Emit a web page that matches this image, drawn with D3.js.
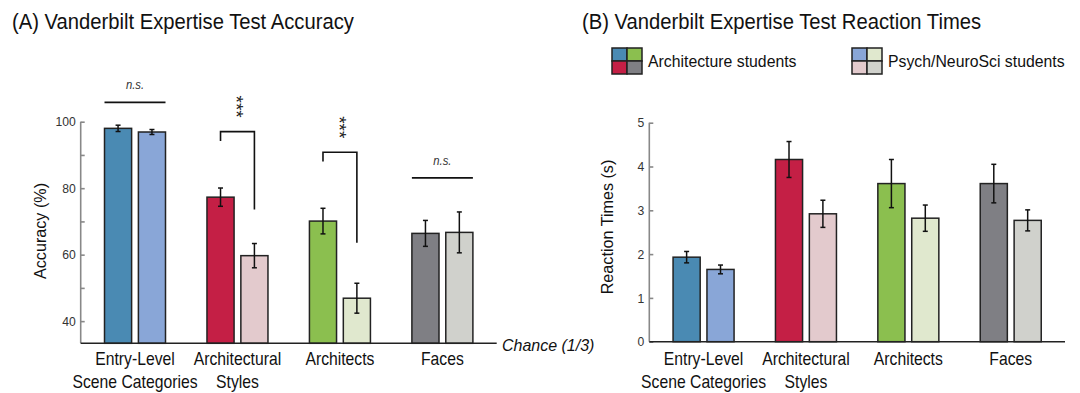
<!DOCTYPE html>
<html>
<head>
<meta charset="utf-8" />
<title>Vanderbilt Expertise Test</title>
<style>
body { margin: 0; background: #fff; }
svg text { font-family: "Liberation Sans Narrow", "Arial Narrow", "Liberation Sans", sans-serif; fill: #111; }
</style>
</head>
<body>
<div id="chart"></div>
<script src="https://cdnjs.cloudflare.com/ajax/libs/d3/7.8.5/d3.min.js"></script>
<script>
// categories and groups
var categories = [["Entry-Level", "Scene Categories"], ["Architectural", "Styles"], ["Architects"], ["Faces"]]
var groups = ["Architecture students", "Psych/NeuroSci students"]

// (A) accuracy, percent
var accArch = [98.0, 77.3, 70.1, 66.4]
var accArchErr = [0.95, 2.75, 3.85, 3.9]
var accPsych = [96.9, 59.7, 46.9, 66.7]
var accPsychErr = [0.75, 3.65, 4.5, 6.15]
var accTicks = [40, 50, 60, 70, 80, 90, 100]
var accLabels = [40, 60, 80, 100]
var chance = 100 / 3

// (B) reaction times, seconds
var rtArch = [1.93, 4.16, 3.61, 3.61]
var rtArchErr = [0.13, 0.41, 0.55, 0.44]
var rtPsych = [1.65, 2.92, 2.82, 2.77]
var rtPsychErr = [0.1, 0.31, 0.3, 0.24]
var rtTicks = [0, 1, 2, 3, 4, 5]

// significance marks on (A), in accuracy units
var accSig = [
    {cat: 0, label: "n.s.", level: 105.8},
    {cat: 1, label: "***", top: 97.0, left: 94.2, right: 73.6},
    {cat: 2, label: "***", top: 90.8, left: 88.0, right: 63.6},
    {cat: 3, label: "n.s.", level: 83.1}
]

var colorsArch = ["#4a8ab3", "#c41f45", "#8bbf4f", "#7f7f84"]
var colorsPsych = ["#89a6d7", "#e3cacd", "#e0e8ce", "#d0d1cc"]

var svg = d3.select("#chart").append("svg").attr("width", 1080).attr("height", 393)

// the original uses a narrow face; squeeze the glyphs horizontally
function squeeze(sel, f) {
    sel.each(function() {
        var w = this.getComputedTextLength()
        d3.select(this).attr("textLength", w * f).attr("lengthAdjust", "spacingAndGlyphs")
    })
    return sel
}

function drawPanel(o) {
    var g = svg.append("g")
    var x = d3.scalePoint().domain(d3.range(categories.length)).range([o.x0, o.x1]).padding(0.53)
    var sub = d3.scaleBand().domain([0, 1]).range([-30.5, 30.5]).paddingInner(0.2)
    var y = d3.scaleLinear().domain(o.domain).range([o.yBottom, o.yTop])

    g.append("text").attr("x", o.titleX).attr("y", 29).attr("font-size", 21.5).text(o.title)
        .call(squeeze, 0.94)

    // y axis
    var yAxis = d3.axisRight(y).tickValues(o.ticks).tickSize(4).tickFormat("")
    var ya = g.append("g").attr("transform", "translate(" + o.x0 + ",0)").call(yAxis)
    ya.select(".domain").attr("d", "M0," + y(o.ticks[o.ticks.length - 1]) + "V" + o.yBottom)
    ya.selectAll("path, line").attr("stroke", "#888").attr("stroke-width", 1.6)
    g.selectAll(".ylab").data(o.labels).enter().append("text")
        .attr("x", o.x0 - 5).attr("y", function(d) { return y(d) })
        .attr("dy", "0.35em").attr("text-anchor", "end")
        .attr("font-size", 13.5).style("fill", "#333").text(function(d) { return d })
        .call(squeeze, 0.9)

    g.append("text")
        .attr("transform", "translate(" + o.yTitleX + "," + o.yTitleY + ") rotate(-90)")
        .attr("text-anchor", "middle").attr("dy", "0.35em").attr("font-size", 17).text(o.yTitle)
        .call(squeeze, 0.95)

    var bars = []
    categories.forEach(function(c, i) {
        bars.push({cat: i, s: 0, v: o.arch[i], e: o.archErr[i], fill: colorsArch[i]})
        bars.push({cat: i, s: 1, v: o.psych[i], e: o.psychErr[i], fill: colorsPsych[i]})
    })
    function bx(d) { return x(d.cat) + sub(d.s) }
    var bw = sub.bandwidth()

    g.selectAll(".bar").data(bars).enter().append("rect")
        .attr("x", bx).attr("width", bw)
        .attr("y", function(d) { return y(d.v) })
        .attr("height", function(d) { return o.yBottom - y(d.v) })
        .attr("fill", function(d) { return d.fill })
        .attr("stroke", "#222").attr("stroke-width", 1.5)

    var err = g.selectAll(".err").data(bars).enter().append("g")
        .attr("stroke", "#111").attr("stroke-width", 1.5)
    err.append("line")
        .attr("x1", function(d) { return bx(d) + bw / 2 }).attr("x2", function(d) { return bx(d) + bw / 2 })
        .attr("y1", function(d) { return y(d.v + d.e) }).attr("y2", function(d) { return y(d.v - d.e) })
    ;[1, -1].forEach(function(sgn) {
        err.append("line")
            .attr("x1", function(d) { return bx(d) + bw / 2 - 2.5 }).attr("x2", function(d) { return bx(d) + bw / 2 + 2.5 })
            .attr("y1", function(d) { return y(d.v + sgn * d.e) }).attr("y2", function(d) { return y(d.v + sgn * d.e) })
    })

    // x axis
    g.append("line").attr("x1", o.x0).attr("x2", o.x1).attr("y1", o.yBottom).attr("y2", o.yBottom)
        .attr("stroke", "#222").attr("stroke-width", 1.6)
    var lines = []
    categories.forEach(function(c, i) {
        c.forEach(function(t, j) { lines.push({cat: i, row: j, text: t}) })
    })
    g.selectAll(".xlab").data(lines).enter().append("text")
        .attr("text-anchor", "middle").attr("font-size", 18.5)
        .attr("x", function(d) { return x(d.cat) })
        .attr("y", function(d) { return 365 + d.row * 23 })
        .text(function(d) { return d.text })
        .call(squeeze, 0.85)

    return {g: g, x: x, y: y, sub: sub}
}

var A = drawPanel({
    title: "(A) Vanderbilt Expertise Test Accuracy", titleX: 12,
    x0: 80.7, x1: 496.7, yTop: 121.7, yBottom: 343.3,
    domain: [chance, 100], ticks: accTicks, labels: accLabels,
    yTitle: "Accuracy (%)", yTitleX: 40, yTitleY: 231,
    arch: accArch, archErr: accArchErr, psych: accPsych, psychErr: accPsychErr
})

A.g.append("text").attr("x", 502).attr("y", 345).attr("dy", "0.35em")
    .attr("font-size", 17).attr("font-style", "italic").text("Chance (1/3)")
    .call(squeeze, 0.94)

var bw = A.sub.bandwidth()
accSig.forEach(function(s) {
    var cx0 = A.x(s.cat) + A.sub(0), cx1 = A.x(s.cat) + A.sub(1)
    if (s.level !== undefined) {
        A.g.append("line").attr("x1", cx0).attr("x2", cx1 + bw)
            .attr("y1", A.y(s.level)).attr("y2", A.y(s.level))
            .attr("stroke", "#111").attr("stroke-width", 1.6)
        A.g.append("text").attr("x", A.x(s.cat)).attr("y", A.y(s.level) - 13)
            .attr("text-anchor", "middle").attr("font-size", 12.5).attr("font-style", "italic")
            .style("fill", "#333").text(s.label)
            .call(squeeze, 0.9)
    } else {
        var l = cx0 + bw / 2, r = cx1 + bw / 2
        A.g.append("path")
            .attr("d", "M" + l + "," + A.y(s.left) + "V" + A.y(s.top) + "H" + r + "V" + A.y(s.right))
            .attr("fill", "none").attr("stroke", "#111").attr("stroke-width", 1.6)
        A.g.append("text")
            .attr("transform", "translate(" + ((l + r) / 2 - 7) + "," + (A.y(s.top) - 25) + ") rotate(90)")
            .attr("text-anchor", "middle").attr("font-size", 19)
            .style("fill", "#222").text(s.label)
    }
})

var B = drawPanel({
    title: "(B) Vanderbilt Expertise Test Reaction Times", titleX: 582,
    x0: 649.3, x1: 1065, yTop: 122.7, yBottom: 341.7,
    domain: [0, 5], ticks: rtTicks, labels: rtTicks,
    yTitle: "Reaction Times (s)", yTitleX: 607, yTitleY: 227,
    arch: rtArch, archErr: rtArchErr, psych: rtPsych, psychErr: rtPsychErr
})

// legend: 2x2 swatch of each group's colours
var legendX = [612, 852]
groups.forEach(function(name, k) {
    var cols = k === 0 ? colorsArch : colorsPsych
    var lg = B.g.append("g").attr("transform", "translate(" + legendX[k] + ",48)")
    var quad = [[0, 0, cols[0]], [15, 0, cols[2]], [0, 13, cols[1]], [15, 13, cols[3]]]
    lg.selectAll("rect").data(quad).enter().append("rect")
        .attr("x", function(d) { return d[0] }).attr("y", function(d) { return d[1] })
        .attr("width", 15).attr("height", 13)
        .attr("fill", function(d) { return d[2] })
        .attr("stroke", "#222").attr("stroke-width", 1.5)
    lg.append("text").attr("x", 36).attr("y", 13).attr("dy", "0.35em").attr("font-size", 17).text(name)
        .call(squeeze, 0.93)
})
</script>
</body>
</html>
